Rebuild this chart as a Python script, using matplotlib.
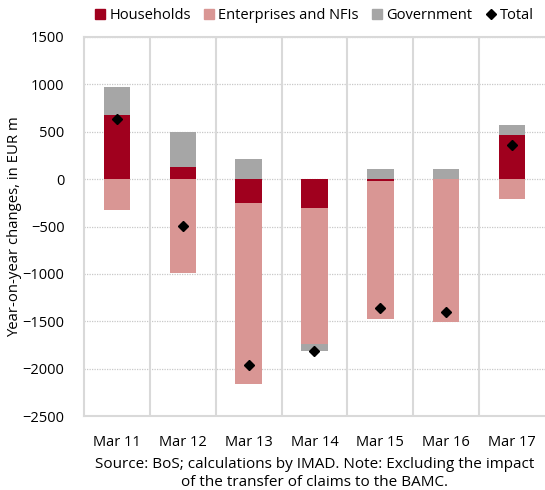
import numpy as np
import matplotlib
matplotlib.use('Agg')
import matplotlib.pyplot as plt
from matplotlib.patches import Patch
from matplotlib.lines import Line2D

plt.rcParams['font.family'] = ['Open Sans', 'DejaVu Sans']

# data (EUR m)
labels = ['Mar 11', 'Mar 12', 'Mar 13', 'Mar 14', 'Mar 15', 'Mar 16', 'Mar 17']
households = [678, 130, -253, -300, -15, 0, 468]
enterprises = [-323, -993, -1912, -1442, -1463, -1513, -211]
government = [290, 365, 208, -71, 110, 107, 102]
total = [632, -498, -1957, -1813, -1365, -1403, 362]

c_hh = '#A0001E'
c_ent = '#D99694'
c_gov = '#A6A6A6'

fig = plt.figure(figsize=(5.45, 4.9), dpi=100)
ax = fig.add_axes([0.154, 0.151, 0.846, 0.7735])

x = np.arange(len(labels))
w = 0.40

# excel style stacking: positives up, negatives down
pos = np.zeros(len(x))
neg = np.zeros(len(x))
for vals, col in [(households, c_hh), (enterprises, c_ent), (government, c_gov)]:
    v = np.array(vals, dtype=float)
    base = np.where(v >= 0, pos, neg)
    ax.bar(x, v, w, bottom=base, color=col, edgecolor='none', zorder=3)
    pos = pos + np.where(v >= 0, v, 0)
    neg = neg + np.where(v < 0, v, 0)

ax.plot(x, total, 'D', color='black', ms=5.2, zorder=4)

ax.set_xlim(-0.5, len(x) - 0.5)
ax.set_ylim(-2500, 1500)
ax.set_yticks(np.arange(-2500, 1501, 500))
ax.set_xticks(x)
ax.set_xticklabels(labels)

# gridlines
for yy in np.arange(-2000, 1501, 500):
    ax.axhline(yy, color='#C8C8C8', lw=0.9, ls=(0, (1, 1)), zorder=1)
for xx in np.arange(0.5, len(x) - 0.5, 1):
    ax.axvline(xx, color='#D9D9D9', lw=1.5, zorder=1)

for s in ['left', 'bottom', 'top']:
    ax.spines[s].set_color('#D9D9D9')
    ax.spines[s].set_linewidth(1.5)
ax.spines['right'].set_visible(False)
ax.tick_params(axis='both', length=0, labelsize=10.5, colors='black')
ax.tick_params(axis='y', pad=14)
ax.tick_params(axis='x', pad=14)

ax.set_ylabel('Year-on-year changes, in EUR m', fontsize=10.7, labelpad=0)

handles = [Patch(color=c_hh), Patch(color=c_ent), Patch(color=c_gov),
           Line2D([], [], marker='D', color='black', ls='none', ms=5.2)]
fig.legend(handles, ['Households', 'Enterprises and NFIs', 'Government', 'Total'],
           loc='center', bbox_to_anchor=(0.577, 0.968), ncol=4, frameon=False,
           fontsize=10.5, handlelength=0.7, handleheight=0.7, handletextpad=0.3,
           columnspacing=0.9, borderaxespad=0)

fig.text(0.577, 0.034, 'Source: BoS; calculations by IMAD. Note: Excluding the impact\nof the transfer of claims to the BAMC.',
         ha='center', va='center', fontsize=11, linespacing=1.25)

plt.savefig('out.png', dpi=100)
